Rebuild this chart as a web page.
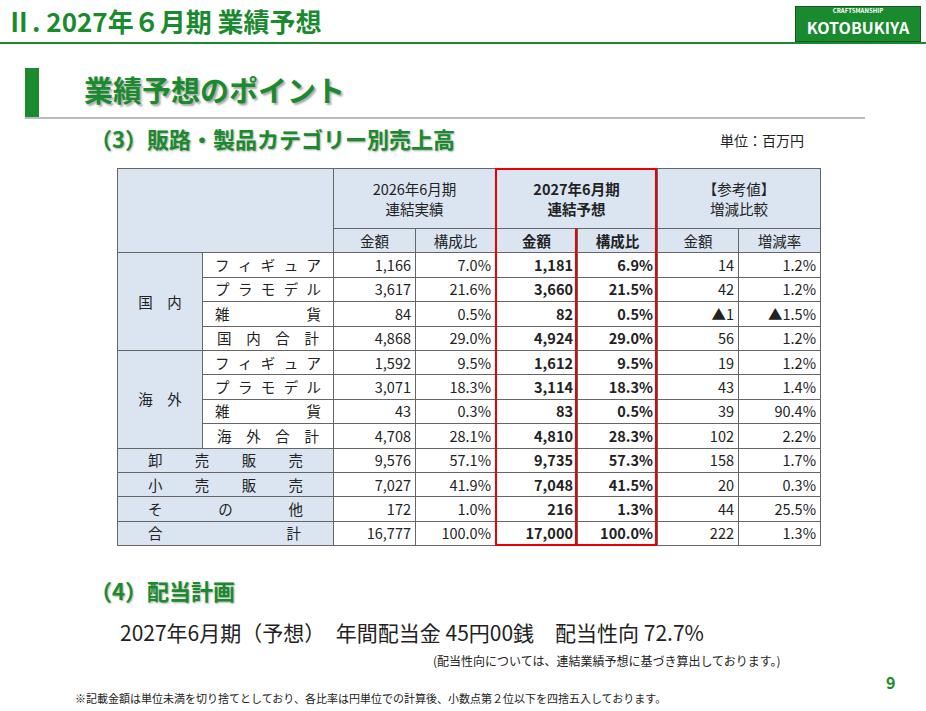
<!DOCTYPE html>
<html><head><meta charset="utf-8">
<script src="https://cdn.jsdelivr.net/npm/chart.js@4/dist/chart.umd.min.js"></script>
<style>
body{margin:0;width:926px;height:711px;background:#fff;font-family:"Noto Sans CJK JP","Noto Sans",sans-serif;position:relative;overflow:hidden;color:#222}
.abs{position:absolute;white-space:nowrap}
.g{color:#1a8a2e;font-weight:bold}
table{border-collapse:collapse;position:absolute;left:117px;top:168px;font-size:14.5px;table-layout:fixed}
td{border:1px solid #666;padding:0 4px;height:23.4px;line-height:16px;white-space:nowrap;overflow:hidden}
.hd{background:#dbe5f1;text-align:center}
.n{text-align:right}
.b{font-weight:bold}
.dash td.d{border-bottom:1px dashed #999}
.sp{display:flex;justify-content:space-between}
</style></head><body>
<div class="abs g" style="left:6px;top:2px;font-size:26px">Ⅱ. 2027年６月期 業績予想</div>
<div class="abs" style="left:0;top:42px;width:926px;height:2px;background:#1a8a2e"></div>
<div class="abs" style="left:795px;top:6px;width:126px;height:36px;background:#1a8a2e;border:1px solid #0f5c1e;box-sizing:border-box"></div>
<div class="abs" style="left:795px;top:7px;width:126px;text-align:center;color:#fff;font-size:6px;font-weight:bold;line-height:7px">CRAFTSMANSHIP</div>
<div class="abs" style="left:795px;top:17px;width:126px;text-align:center;color:#fff;font-size:16px;font-weight:bold;line-height:20px">KOTOBUKIYA</div>
<div class="abs" style="left:25px;top:68px;width:14px;height:50px;background:#1a8a2e"></div>
<div class="abs" style="left:25px;top:117px;width:840px;height:2px;background:#bbb"></div>
<div class="abs g" style="left:84px;top:68px;font-size:29px;text-shadow:2px 2px 2px #aaa">業績予想のポイント</div>
<div class="abs g" style="left:90px;top:122px;font-size:22px;text-shadow:1px 1px 2px #aaa">（3）販路・製品カテゴリー別売上高</div>
<div class="abs" style="left:720px;top:130px;font-size:14px">単位：百万円</div>
<table id="t"></table>
<div class="abs" style="left:495px;top:168px;width:158px;height:374px;border:2px solid #e00" id="rb"></div>
<div class="abs" style="left:575px;top:228px;width:2px;height:316px;background:#e00" id="rl"></div>
<div class="abs g" style="left:90px;top:574px;font-size:22px;text-shadow:1px 1px 2px #aaa">（4）配当計画</div>
<div class="abs" style="left:120px;top:617px;font-size:21px">2027年6月期（予想）　年間配当金 45円00銭　配当性向 72.7%</div>
<div class="abs" style="left:433px;top:652px;font-size:12px">(配当性向については、連結業績予想に基づき算出しております。)</div>
<div class="abs" style="left:75px;top:690px;font-size:11px">※記載金額は単位未満を切り捨てとしており、各比率は円単位での計算後、小数点第２位以下を四捨五入しております。</div>
<div class="abs g" style="left:886px;top:670px;font-size:16px">9</div>
<script>
const groups = ["国　内","海　外"];
const labels = ["フィギュア","プラモデル","雑貨","国内合計","フィギュア","プラモデル","雑貨","海外合計","卸売販売","小売販売","その他","合計"];
const amt2026 = ["1,166","3,617","84","4,868","1,592","3,071","43","4,708","9,576","7,027","172","16,777"];
const ratio2026 = ["7.0%","21.6%","0.5%","29.0%","9.5%","18.3%","0.3%","28.1%","57.1%","41.9%","1.0%","100.0%"];
const amt2027 = ["1,181","3,660","82","4,924","1,612","3,114","83","4,810","9,735","7,048","216","17,000"];
const ratio2027 = ["6.9%","21.5%","0.5%","29.0%","9.5%","18.3%","0.5%","28.3%","57.3%","41.5%","1.3%","100.0%"];
const diff = ["14","42","▲1","56","19","43","39","102","158","20","44","222"];
const rate = ["1.2%","1.2%","▲1.5%","1.2%","1.2%","1.4%","90.4%","2.2%","1.7%","0.3%","25.5%","1.3%"];

const widths=[85,131,82,80,82,80,81,82];
const sp=s=>'<div class="sp">'+s.split('').map(c=>'<span>'+c+'</span>').join('')+'</div>';
let h='<colgroup>'+widths.map(w=>`<col style="width:${w}px">`).join('')+'</colgroup>';
h+=`<tr style="height:60px"><td class="hd" colspan="2" rowspan="2"></td>
<td class="hd" colspan="2" style="line-height:20px">2026年6月期<br>連結実績</td>
<td class="hd b" colspan="2" style="line-height:20px">2027年6月期<br>連結予想</td>
<td class="hd" colspan="2" style="line-height:20px">【参考値】<br>増減比較</td></tr>
<tr><td class="hd">金額</td><td class="hd">構成比</td><td class="hd b">金額</td><td class="hd b">構成比</td><td class="hd">金額</td><td class="hd">増減率</td></tr>`;
labels.forEach((l,i)=>{
  const inGroup=i<8, sub=i%4, dc=(inGroup&&sub<2)?' d':'';
  h+=`<tr class="dash">`;
  if(inGroup&&sub===0) h+=`<td class="hd" rowspan="4">${groups[i/4]}</td>`;
  if(inGroup) h+=`<td class="${dc}" style="padding:0 ${sub===3?14:12}px">${sp(l)}</td>`;
  else h+=`<td colspan="2" class="hd" style="padding:0 ${l.length===2?'32px 0 30px':'30px'}">${sp(l)}</td>`;
  h+=`<td class="n${dc}">${amt2026[i]}</td><td class="n${dc}">${ratio2026[i]}</td><td class="n b${dc}">${amt2027[i]}</td><td class="n b${dc}">${ratio2027[i]}</td><td class="n${dc}">${diff[i]}</td><td class="n${dc}">${rate[i]}</td></tr>`;
});
document.getElementById('t').innerHTML=h;
const t=document.getElementById('t'), hg=t.offsetHeight;
document.getElementById('rb').style.height=(hg-4)+'px';
document.getElementById('rl').style.height=(hg-60)+'px';
</script>
</body></html>
